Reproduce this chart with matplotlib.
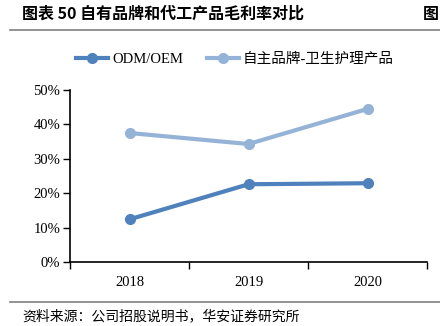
import matplotlib.pyplot as plt
from matplotlib.ticker import FixedLocator, FuncFormatter

plt.rcParams['font.family'] = ['Liberation Serif', 'Noto Sans CJK SC', 'DejaVu Sans']

years = ['2018', '2019', '2020']
odm = [12.4, 22.6, 22.9]        # ODM/OEM gross margin, %
own = [37.5, 34.3, 44.5]        # own brand - hygiene products, %
yticks = [0, 10, 20, 30, 40, 50]

fig = plt.figure(figsize=(4.4, 3.26), dpi=100)
ax = fig.add_axes([70/440, 1-262/326, 357/440, 172/326])

x = list(range(len(years)))
ax.plot(x, odm, color='#4f81bd', lw=3, marker='o', ms=7, label='ODM/OEM')
ax.plot(x, own, color='#95b3d7', lw=3, marker='o', ms=7, label='自主品牌-卫生护理产品')

ax.set_xlim(-0.5, 2.5)
ax.set_ylim(0, 50)
ax.set_yticks(yticks)
ax.yaxis.set_major_formatter(FuncFormatter(lambda v, p: '%d%%' % v))
ax.set_xticks(x)
ax.set_xticklabels(years)
ax.xaxis.set_minor_locator(FixedLocator([-0.5, 0.5, 1.5, 2.5]))
ax.tick_params(axis='x', which='major', length=0, pad=10, labelsize=10.5)
ax.tick_params(axis='x', which='minor', length=5, width=1, direction='out')
ax.tick_params(axis='y', length=5, width=1, labelsize=10.5, pad=2)
for s in ['top', 'right']:
    ax.spines[s].set_visible(False)
for s in ['left', 'bottom']:
    ax.spines[s].set_linewidth(1.2)

leg = fig.legend(loc='center', bbox_to_anchor=(235/440, 1-59/326), ncol=2, frameon=False,
                 fontsize=10.5, handlelength=2.2, columnspacing=1.6, handletextpad=0.3)

fig.text(22/440, 1-14/326, '图表 50 自有品牌和代工产品毛利率对比', fontsize=11.5,
         fontweight='bold', family=['Noto Sans CJK SC'], va='center')
fig.text(423/440, 1-14/326, '图', fontsize=11.5, fontweight='bold',
         family=['Noto Sans CJK SC'], va='center')
fig.add_artist(plt.Line2D([10/440, 1], [1-30/326]*2, color='#808080', lw=1.2))
fig.add_artist(plt.Line2D([10/440, 1], [1-302/326]*2, color='#808080', lw=1.2))
fig.text(22/440, 1-316/326, '资料来源：公司招股说明书，华安证券研究所', fontsize=10,
         family=['Noto Sans CJK SC'], va='center')

fig.savefig('out.png', dpi=100)
